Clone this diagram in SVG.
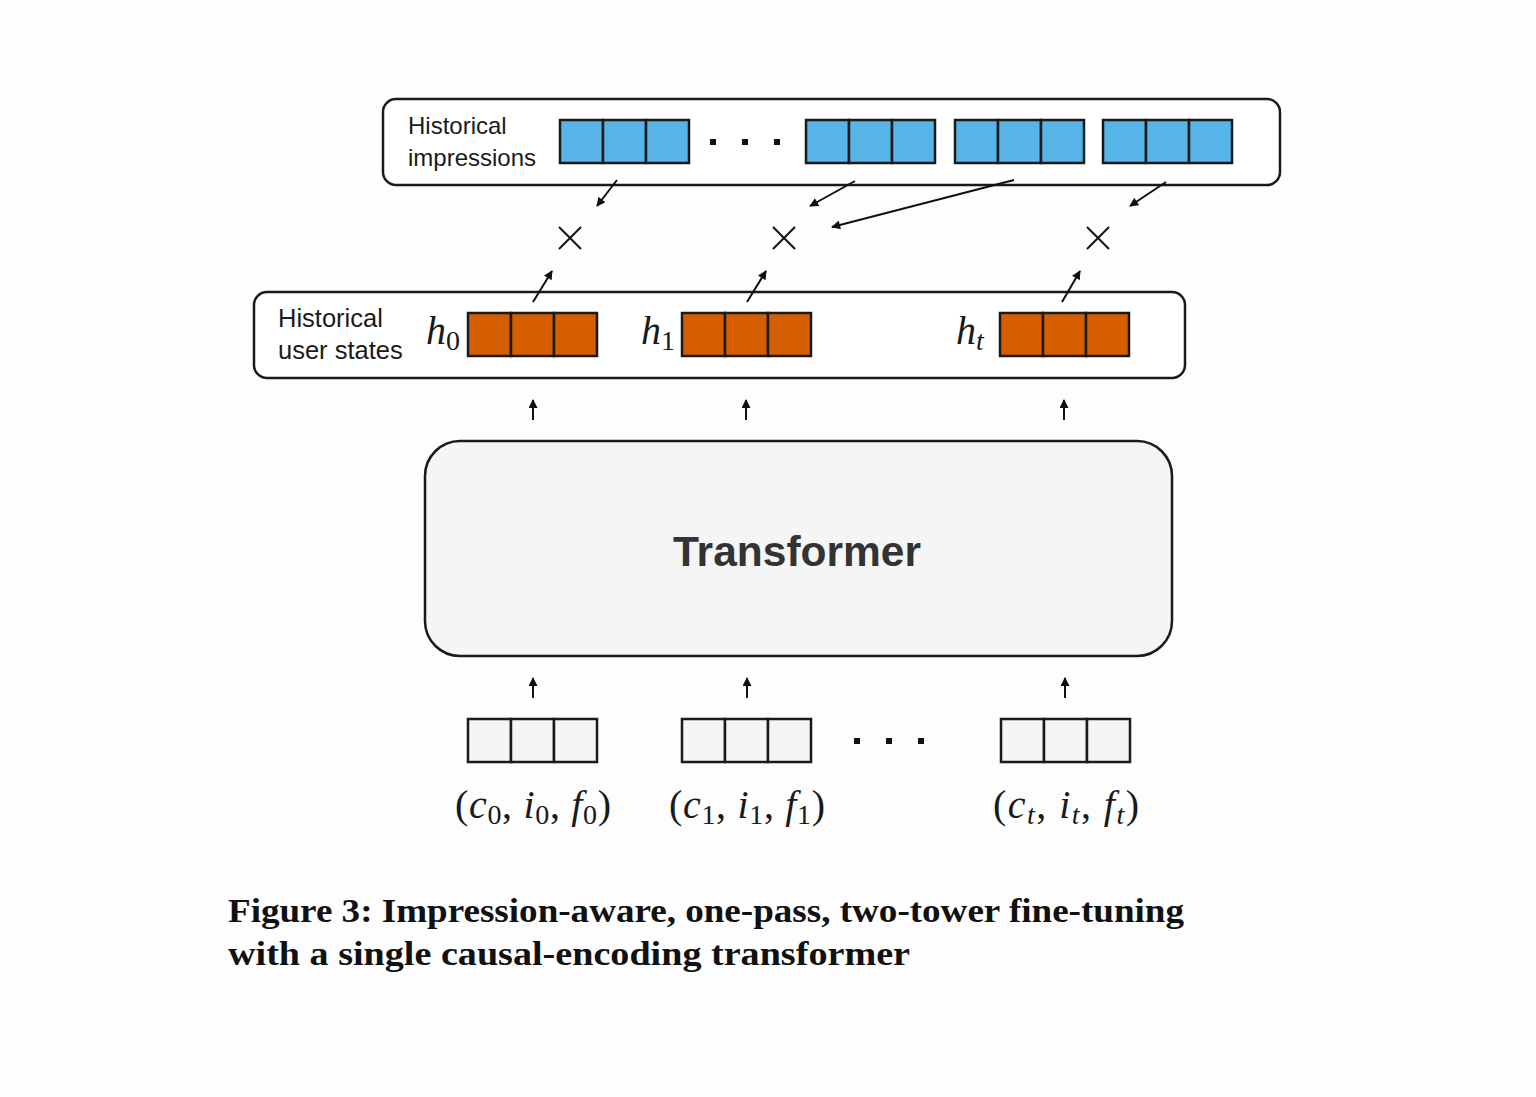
<svg xmlns="http://www.w3.org/2000/svg" width="1536" height="1097" viewBox="0 0 1536 1097">
<style>
.frame{fill:#ffffff;stroke:#1a1a1a;stroke-width:2.5}
.blue{fill:#56b4e9;stroke:#1a1a1a;stroke-width:2.5}
.orange{fill:#d55e00;stroke:#1a1a1a;stroke-width:2.5}
.grey{fill:#f5f5f5;stroke:#1a1a1a;stroke-width:2.5}
.lbl{font-family:"Liberation Sans",Arial,sans-serif;font-size:24px;fill:#1a1a1a}
.lbl2{font-family:"Liberation Sans",Arial,sans-serif;font-size:25.5px;fill:#1a1a1a}
.math{font-family:"Liberation Serif","Times New Roman",serif;font-size:40px;fill:#1a1a1a}
.it{font-style:italic}
.sub{font-size:28px}
.arr{stroke:#111;stroke-width:2;fill:none;marker-end:url(#ah)}
.x{stroke:#111;stroke-width:2;fill:none}
.cap{font-family:"Liberation Serif","Times New Roman",serif;font-weight:bold;font-size:34px;fill:#111}
</style>
<defs>
<marker id="ah" viewBox="0 0 10 10" refX="9" refY="5" markerWidth="10" markerHeight="9" orient="auto" markerUnits="userSpaceOnUse"><path d="M0,0 L10,5 L0,10 z" fill="#111"/></marker>
<g id="cells3"><rect x="0" y="0" width="43" height="43"/><rect x="43" y="0" width="43" height="43"/><rect x="86" y="0" width="43" height="43"/></g>
</defs>
<rect width="1536" height="1097" fill="#fdfdfd"/>

<g id="impressions">
<rect class="frame" x="383" y="99" width="897" height="86" rx="13"/>
<text class="lbl" x="408" y="134">Historical</text>
<text class="lbl" x="408" y="166">impressions</text>
<use href="#cells3" class="blue" x="560" y="120"/>
<use href="#cells3" class="blue" x="806" y="120"/>
<use href="#cells3" class="blue" x="955" y="120"/>
<use href="#cells3" class="blue" x="1103" y="120"/>
<rect x="710" y="139" width="6" height="6" fill="#111"/>
<rect x="742" y="139" width="6" height="6" fill="#111"/>
<rect x="774" y="139" width="6" height="6" fill="#111"/>
</g>

<g id="products">
<path class="x" d="M559,227 L581,249 M581,227 L559,249"/>
<path class="x" d="M773,227 L795,249 M795,227 L773,249"/>
<path class="x" d="M1087,227 L1109,249 M1109,227 L1087,249"/>
</g>

<g id="user-states">
<rect class="frame" x="254" y="292" width="931" height="86" rx="13"/>
<text class="lbl2" x="278" y="327">Historical</text>
<text class="lbl2" x="278" y="359">user states</text>
<text class="math" x="426" y="344"><tspan class="it">h</tspan><tspan class="sub" dy="6">0</tspan></text>
<text class="math" x="641" y="344"><tspan class="it">h</tspan><tspan class="sub" dy="6">1</tspan></text>
<text class="math" x="956" y="344"><tspan class="it">h</tspan><tspan class="sub it" dy="6">t</tspan></text>
<use href="#cells3" class="orange" x="468" y="313"/>
<use href="#cells3" class="orange" x="682" y="313"/>
<use href="#cells3" class="orange" x="1000" y="313"/>
</g>

<g id="transformer">
<rect class="grey" x="425" y="441" width="747" height="215" rx="35"/>
<text x="797" y="566" text-anchor="middle" font-family="Liberation Sans,Arial,sans-serif" font-weight="bold" font-size="42" fill="#333" textLength="248" lengthAdjust="spacingAndGlyphs">Transformer</text>
</g>

<g id="inputs">
<use href="#cells3" class="grey" x="468" y="719"/>
<use href="#cells3" class="grey" x="682" y="719"/>
<use href="#cells3" class="grey" x="1001" y="719"/>
<rect x="854" y="738" width="6" height="6" fill="#111"/>
<rect x="886" y="738" width="6" height="6" fill="#111"/>
<rect x="918" y="738" width="6" height="6" fill="#111"/>
<text class="math" x="533" y="818" text-anchor="middle" textLength="156" lengthAdjust="spacing">(<tspan class="it">c</tspan><tspan class="sub" dy="6">0</tspan><tspan dy="-6">, </tspan><tspan class="it">i</tspan><tspan class="sub" dy="6">0</tspan><tspan dy="-6">, </tspan><tspan class="it">f</tspan><tspan class="sub" dy="6">0</tspan><tspan dy="-6">)</tspan></text>
<text class="math" x="747" y="818" text-anchor="middle" textLength="156" lengthAdjust="spacing">(<tspan class="it">c</tspan><tspan class="sub" dy="6">1</tspan><tspan dy="-6">, </tspan><tspan class="it">i</tspan><tspan class="sub" dy="6">1</tspan><tspan dy="-6">, </tspan><tspan class="it">f</tspan><tspan class="sub" dy="6">1</tspan><tspan dy="-6">)</tspan></text>
<text class="math" x="1066" y="818" text-anchor="middle" textLength="146" lengthAdjust="spacing">(<tspan class="it">c</tspan><tspan class="sub it" dy="6">t</tspan><tspan dy="-6">, </tspan><tspan class="it">i</tspan><tspan class="sub it" dy="6">t</tspan><tspan dy="-6">, </tspan><tspan class="it">f</tspan><tspan class="sub it" dy="6">t</tspan><tspan dy="-6">)</tspan></text>
</g>

<g id="connectors">
<line class="arr" x1="617" y1="180" x2="597" y2="206"/>
<line class="arr" x1="855" y1="181" x2="810" y2="206"/>
<line class="arr" x1="1014" y1="180" x2="832" y2="227"/>
<line class="arr" x1="1166" y1="182" x2="1130" y2="206"/>
<line class="arr" x1="533" y1="302" x2="552" y2="271"/>
<line class="arr" x1="747" y1="302" x2="766" y2="271"/>
<line class="arr" x1="1062" y1="302" x2="1080" y2="271"/>
<line class="arr" x1="533" y1="420" x2="533" y2="400"/>
<line class="arr" x1="746" y1="420" x2="746" y2="400"/>
<line class="arr" x1="1064" y1="420" x2="1064" y2="400"/>
<line class="arr" x1="533" y1="698" x2="533" y2="678"/>
<line class="arr" x1="747" y1="698" x2="747" y2="678"/>
<line class="arr" x1="1065" y1="698" x2="1065" y2="678"/>
</g>

<g id="caption">
<text class="cap" x="228" y="922" textLength="956" lengthAdjust="spacingAndGlyphs">Figure 3: Impression-aware, one-pass, two-tower fine-tuning</text>
<text class="cap" x="228" y="965" textLength="682" lengthAdjust="spacingAndGlyphs">with a single causal-encoding transformer</text>
</g>
</svg>
